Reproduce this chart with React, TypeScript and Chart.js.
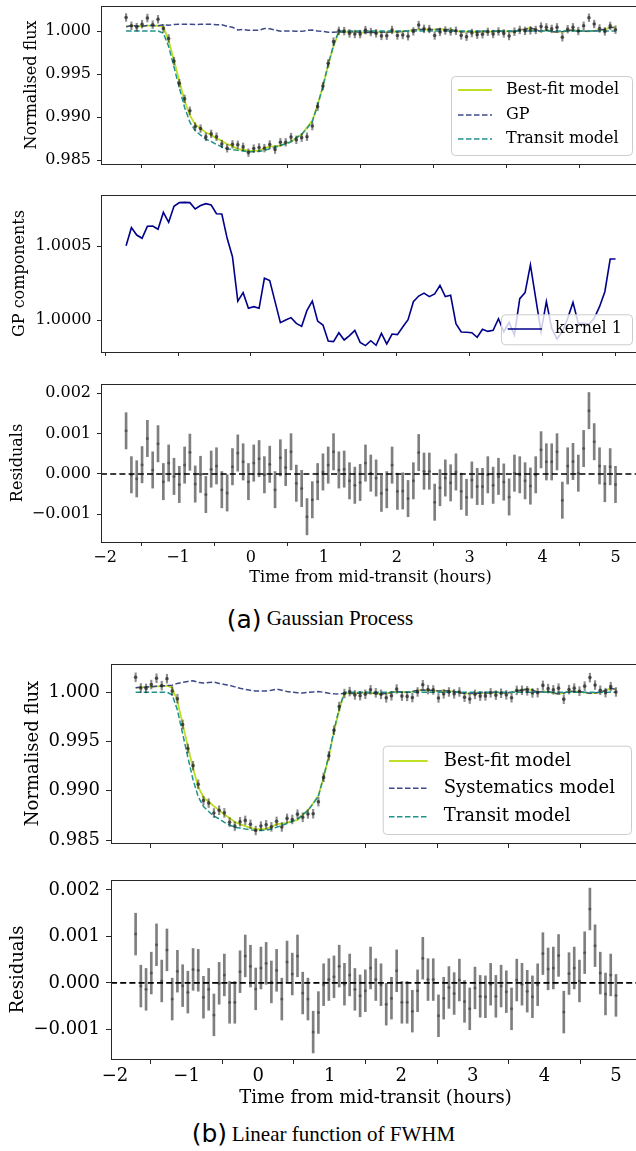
import React, { useEffect, useRef } from 'react';
import { Chart, registerables } from 'chart.js';

Chart.register(...registerables);

// ---------------- data ----------------
const TIME = [
  -1.712, -1.639, -1.566, -1.493, -1.420, -1.347, -1.274, -1.201, -1.128, -1.055,
  -0.982, -0.909, -0.837, -0.764, -0.691, -0.618, -0.545, -0.472, -0.399, -0.326,
  -0.253, -0.180, -0.107, -0.034, 0.039, 0.112, 0.185, 0.258, 0.331, 0.404,
  0.477, 0.550, 0.623, 0.696, 0.769, 0.842, 0.915, 0.988, 1.060, 1.133,
  1.206, 1.279, 1.352, 1.425, 1.498, 1.571, 1.644, 1.717, 1.790, 1.863,
  1.936, 2.009, 2.082, 2.155, 2.228, 2.301, 2.374, 2.447, 2.520, 2.593,
  2.666, 2.739, 2.812, 2.884, 2.957, 3.030, 3.103, 3.176, 3.249, 3.322,
  3.395, 3.468, 3.541, 3.614, 3.687, 3.760, 3.833, 3.906, 3.979, 4.052,
  4.125, 4.198, 4.271, 4.344, 4.417, 4.490, 4.563, 4.636, 4.708, 4.781,
  4.854, 4.927, 5.000,
];

const TRANSIT = [
  1, 1, 1, 1, 1, 1, 1, 0.99975, 0.9982, 0.9958,
  0.9934, 0.9911, 0.9894, 0.9884, 0.9879, 0.98742, 0.98715, 0.9868, 0.98654, 0.98629,
  0.98622, 0.98612, 0.98604, 0.98597, 0.98597, 0.986, 0.98612, 0.9863, 0.98648, 0.98668,
  0.9869, 0.9871, 0.9876, 0.988, 0.9887, 0.98946, 0.9914, 0.99358, 0.99616, 0.99836,
  1, 1, 1, 1, 1, 1, 1, 1, 1, 1,
  1, 1, 1, 1, 1, 1, 1, 1, 1, 1,
  1, 1, 1, 1, 1, 1, 1, 1, 1, 1,
  1, 1, 1, 1, 1, 1, 1, 1, 1, 1,
  1, 1, 1, 1, 1, 1, 1, 1, 1, 1,
  1, 1, 1,
];

const GP = [
  1.000502, 1.000624, 1.000574, 1.000552, 1.000633, 1.000635, 1.000613, 1.000727, 1.000660, 1.000768,
  1.000793, 1.000795, 1.000793, 1.000750, 1.000773, 1.000786, 1.000777, 1.000718, 1.000716, 1.000552,
  1.000428, 1.000128, 1.000185, 1.000079, 1.000090, 1.000079, 1.000282, 1.000266, 1.000124, 0.999982,
  1.000000, 1.000016, 0.999977, 0.999957, 1.000065, 1.000128, 0.999993, 0.999966, 0.999858, 0.999854,
  0.999914, 0.999865, 0.999894, 0.999930, 0.999849, 0.999827, 0.999860, 0.999829, 0.999910, 0.999838,
  0.999905, 0.999901, 0.999953, 1.000002, 1.000124, 1.000162, 1.000182, 1.000158, 1.000176, 1.000234,
  1.000158, 1.000167, 0.999975, 0.999919, 0.999917, 0.999914, 0.999883, 0.999937, 0.999923, 0.999930,
  1.000009, 0.999921, 0.999984, 0.999899, 1.000144, 1.000185, 1.000372, 1.000146, 0.999921, 1.000124,
  0.999944, 0.999872, 0.999921, 1.000011, 1.000119, 0.999977, 0.999977, 0.999971, 1.000011, 1.000090,
  1.000191, 1.000412, 1.000412,
];

const SYS = [
  1.00047, 1.0005, 1.00053, 1.00057, 1.0006, 1.00063, 1.00067, 1.00072, 1.0009, 1.001,
  1.0011, 1.00117, 1.001, 1.00093, 1.001, 1.00103, 1.0009, 1.0008, 1.0007, 1.00055,
  1.0004, 1.0003, 1.0002, 1.00013, 1.00013, 1.00013, 1.0002, 1.00033, 1.0002, 1.00007,
  1.0, 0.99995, 0.99993, 1.0, 1.00003, 1.00007, 1.0, 0.9999, 0.99985, 0.99983,
  0.9999, 0.9999, 0.99987, 0.99993, 0.99997, 0.99993, 0.99987, 0.99983, 0.9999, 0.99997,
  1.00007, 1.00003, 1.0, 1.00007, 1.0002, 1.00023, 1.0002, 1.00017, 1.00013, 1.00017,
  1.00013, 1.00007, 0.99997, 0.9999, 0.99987, 0.9999, 0.9999, 0.99993, 0.99997, 1.0,
  0.99997, 0.99993, 1.0, 1.00013, 1.00023, 1.00033, 1.00023, 1.0, 1.00007, 1.00007,
  0.99993, 0.99983, 0.99993, 1.00007, 1.0001, 1.00007, 0.99997, 0.9999, 0.99993, 1.0,
  1.0002, 1.0004, 1.0003,
];

// residuals in units of 1e-3
const RESID_A = [
  1.07, -0.02, -0.12, 0.23, 0.88, 0.10, 0.75, -0.19, 0.27, -0.06,
  -0.26, 0.22, 0.54, -0.25, -0.01, -0.51, 0.12, 0.20, -0.39, -0.47,
  0.18, 0.52, 0.30, -0.19, 0.27, 0.38, -0.02, 0.24, -0.39, 0.40,
  0.16, 0.55, -0.23, -0.36, -1.06, -0.64, -0.19, 0.05, 0.22, 0.55,
  0.10, 0.12, -0.17, -0.28, -0.21, 0.27, 0.02, -0.10, -0.48, -0.39,
  0.22, -0.43, -0.42, -0.61, -0.17, 0.53, 0.07, 0.07, -0.70, -0.34,
  -0.10, -0.22, 0.05, -0.43, -0.58, -0.15, -0.31, -0.31, -0.02, -0.28,
  -0.06, -0.20, -0.57, 0.02, -0.02, -0.17, -0.30, -0.02, 0.60, 0.30,
  0.30, 0.55, -0.65, 0.20, 0.31, 0.02, 0.63, 1.57, 0.80, 0.20,
  -0.24, 0.18, -0.26,
];

const RESID_B = [
  1.05, -0.07, -0.14, 0.21, 0.82, 0.04, 0.71, -0.35, 0.25, -0.06,
  -0.20, 0.29, 0.27, -0.31, -0.14, -0.69, -0.01, 0.17, -0.42, -0.42,
  0.24, 0.58, 0.36, -0.13, 0.32, 0.42, 0.02, 0.27, -0.35, 0.45,
  0.19, 0.58, -0.22, -0.35, -1.06, -0.64, -0.04, 0.07, 0.13, 0.36,
  -0.03, 0.17, -0.14, -0.28, -0.17, 0.32, 0.07, -0.04, -0.46, -0.33,
  0.26, -0.42, -0.42, -0.61, -0.17, 0.53, 0.07, 0.07, -0.71, -0.33,
  -0.10, -0.23, 0.06, -0.40, -0.56, -0.11, -0.29, -0.30, -0.03, -0.29,
  -0.07, -0.19, -0.56, 0.06, -0.03, -0.18, -0.30, -0.04, 0.63, 0.30,
  0.32, 0.59, -0.63, 0.20, 0.32, 0.04, 0.65, 1.59, 0.80, 0.21,
  -0.24, 0.17, -0.27,
];

const ERR = 0.00045;

const X_TICKS = [-2, -1, 0, 1, 2, 3, 4, 5];
const X_TICK_LABELS = ['\u22122', '\u22121', '0', '1', '2', '3', '4', '5'];
const FLUX_TICKS = [0.985, 0.99, 0.995, 1.0];
const FLUX_TICK_LABELS = ['0.985', '0.990', '0.995', '1.000'];
const GP_TICKS = [1.0, 1.0005];
const GP_TICK_LABELS = ['1.0000', '1.0005'];
const RES_TICKS = [-0.001, 0, 0.001, 0.002];
const RES_TICK_LABELS = ['\u22120.001', '0.000', '0.001', '0.002'];

const LEGEND_A = ['Best-fit model', 'GP', 'Transit model'];
const LEGEND_B = ['Best-fit model', 'Systematics model', 'Transit model'];
const LEGEND_GP = ['kernel 1'];

// ---------------- styles ----------------
const SERIF = '"DejaVu Serif", serif';
const CANVAS_W = 650;
const X_MIN = -2.056;
const X_MAX = 5.336;
const C_BEST = '#bddf26';
const C_GP = '#3e4989';
const C_TRANSIT = '#21918c';
const C_KERNEL = '#00008b';
const C_PT = 'rgba(40,40,40,0.75)';
const C_ERR = 'rgba(0,0,0,0.45)';
const C_RPT = 'rgba(70,70,70,0.75)';
const C_RERR = 'rgba(0,0,0,0.5)';
const C_FRAME = '#262626';
const DASH = [5.5, 2.5];

const xy = (ys: number[]) => TIME.map((t, i) => ({ x: t, y: ys[i] }));
const bars = (ys: number[], e: number) => TIME.map((t, i) => ({ x: t, y: [ys[i] - e, ys[i] + e] }));

function makeX(height: number, labels: boolean, size: number, tickLen: number, titlePad: number) {
  return {
    type: 'linear',
    min: X_MIN,
    max: X_MAX,
    bounds: 'data',
    offset: false,
    afterBuildTicks: (s: any) => { s.ticks = X_TICKS.map((v) => ({ value: v })); },
    afterFit: (s: any) => { s.height = height; s.paddingLeft = 0; s.paddingRight = 0; },
    ticks: {
      display: labels, autoSkip: false, maxRotation: 0, minRotation: 0, padding: 2,
      color: '#000', font: { family: SERIF, size },
      callback: (_v: any, i: number) => X_TICK_LABELS[i],
    },
    grid: { display: true, drawOnChartArea: false, drawTicks: true, tickLength: tickLen, tickColor: C_FRAME, tickWidth: 1 },
    border: { display: false },
    title: {
      display: labels, text: 'Time from mid-transit (hours)', color: '#000',
      font: { family: SERIF, size }, padding: { top: 0, bottom: titlePad },
    },
  };
}

function makeY(o: { width: number; min: number; max: number; ticks: number[]; labels: string[]; size: number; tickLen: number; pad: number; title: string; titlePad: number }) {
  return {
    type: 'linear',
    min: o.min,
    max: o.max,
    bounds: 'data',
    afterBuildTicks: (s: any) => { s.ticks = o.ticks.map((v) => ({ value: v })); },
    afterFit: (s: any) => { s.width = o.width; s.paddingTop = 0; s.paddingBottom = 0; },
    ticks: {
      autoSkip: false, padding: o.pad, color: '#000', font: { family: SERIF, size: o.size },
      callback: (_v: any, i: number) => o.labels[i],
    },
    grid: { display: true, drawOnChartArea: false, drawTicks: true, tickLength: o.tickLen, tickColor: C_FRAME, tickWidth: 1 },
    border: { display: false },
    title: {
      display: true, text: o.title, color: '#000', font: { family: SERIF, size: o.size },
      padding: { top: o.titlePad, bottom: 0 },
    },
  };
}

const framePlugin = {
  id: 'frame',
  afterDatasetsDraw(chart: any) {
    const { ctx, chartArea: a } = chart;
    ctx.save();
    ctx.strokeStyle = C_FRAME;
    ctx.lineWidth = 1;
    ctx.strokeRect(Math.round(a.left) + 0.5, Math.round(a.top) + 0.5, Math.round(a.right - a.left), Math.round(a.bottom - a.top));
    ctx.restore();
  },
};

type LegItem = { label: string; color: string; dash: number[]; width: number };
function legendPlugin(id: string, box: { x: number; y: number; w: number; h: number }, rows: number[], lineX0: number, lineX1: number, textX: number, size: number, items: LegItem[]) {
  return {
    id,
    afterDraw(chart: any) {
      const { ctx } = chart;
      ctx.save();
      ctx.beginPath();
      if (ctx.roundRect) ctx.roundRect(box.x + 0.5, box.y + 0.5, box.w, box.h, 4);
      else ctx.rect(box.x + 0.5, box.y + 0.5, box.w, box.h);
      ctx.fillStyle = 'rgba(255,255,255,0.8)';
      ctx.fill();
      ctx.strokeStyle = '#cccccc';
      ctx.lineWidth = 1;
      ctx.stroke();
      items.forEach((it, k) => {
        const yy = rows[k];
        ctx.beginPath();
        ctx.setLineDash(it.dash);
        ctx.strokeStyle = it.color;
        ctx.lineWidth = it.width;
        ctx.moveTo(lineX0, yy);
        ctx.lineTo(lineX1, yy);
        ctx.stroke();
        ctx.setLineDash([]);
        ctx.fillStyle = '#000';
        ctx.font = `${size}px ${SERIF}`;
        ctx.textAlign = 'left';
        ctx.textBaseline = 'middle';
        ctx.fillText(it.label, textX, yy);
      });
      ctx.restore();
    },
  };
}

function baseConfig(datasets: any[], scales: any, padTop: number, plugins: any[]) {
  return {
    type: 'scatter',
    data: { datasets },
    options: {
      responsive: false,
      maintainAspectRatio: false,
      animation: false,
      events: [],
      layout: { padding: { top: padTop, left: 0, right: 10, bottom: 0 }, autoPadding: false },
      plugins: { legend: { display: false }, tooltip: { enabled: false } },
      scales,
    },
    plugins,
  };
}

function lightCurveDatasets(model2: number[], model2Color: string) {
  const best = TIME.map((_, i) => TRANSIT[i] * model2[i]);
  return { best };
}

// ---------- panel builders ----------
function buildP1() {
  const best = TIME.map((_, i) => TRANSIT[i] * GP[i]);
  const flux = TIME.map((_, i) => best[i] + RESID_A[i] * 1e-3);
  const datasets = [
    { type: 'scatter', data: xy(flux), pointRadius: 1.8, pointBackgroundColor: C_PT, pointBorderWidth: 0, order: 0 },
    { type: 'bar', data: bars(flux, ERR), backgroundColor: C_ERR, barThickness: 1.5, order: 1 },
    { type: 'line', data: xy(TRANSIT), borderColor: C_TRANSIT, borderWidth: 1.5, borderDash: DASH, pointRadius: 0, tension: 0, order: 2 },
    { type: 'line', data: xy(GP), borderColor: C_GP, borderWidth: 1.5, borderDash: DASH, pointRadius: 0, tension: 0, order: 3 },
    { type: 'line', data: xy(best), borderColor: C_BEST, borderWidth: 1.8, pointRadius: 0, tension: 0, order: 4 },
  ];
  const scales = {
    x: makeX(11, false, 16, 4, 0),
    y: makeY({ width: 101, min: 0.984535, max: 1.002907, ticks: FLUX_TICKS, labels: FLUX_TICK_LABELS, size: 16, tickLen: 4, pad: 6, title: 'Normalised flux', titlePad: 22.4 }),
  };
  const leg = legendPlugin('legA', { x: 451, y: 76, w: 181, h: 79 }, [90, 115, 139], 458, 492, 506, 16, [
    { label: LEGEND_A[0], color: C_BEST, dash: [], width: 1.8 },
    { label: LEGEND_A[1], color: C_GP, dash: DASH, width: 1.5 },
    { label: LEGEND_A[2], color: C_TRANSIT, dash: DASH, width: 1.5 },
  ]);
  return baseConfig(datasets, scales, 6, [framePlugin, leg]);
}

function buildP2() {
  const datasets = [
    { type: 'line', data: xy(GP), borderColor: C_KERNEL, borderWidth: 1.6, pointRadius: 0, tension: 0, order: 0 },
  ];
  const scales = {
    x: makeX(13, false, 16, 4, 0),
    y: makeY({ width: 101, min: 0.9997838, max: 1.0008446, ticks: GP_TICKS, labels: GP_TICK_LABELS, size: 16, tickLen: 4, pad: 5.5, title: 'GP components', titlePad: 10.4 }),
  };
  const leg = legendPlugin('legGP', { x: 501, y: 129.3, w: 131, h: 30 }, [144], 507.7, 542, 555, 16, [
    { label: LEGEND_GP[0], color: C_KERNEL, dash: [], width: 1.6 },
  ]);
  return baseConfig(datasets, scales, 10, [framePlugin, leg]);
}

function residDatasets(res: number[]) {
  const r = res.map((v) => v * 1e-3);
  return [
    { type: 'line', data: [{ x: X_MIN, y: 0 }, { x: X_MAX, y: 0 }], borderColor: '#000', borderWidth: 1.6, borderDash: [6, 3.2], pointRadius: 0, order: 0 },
    { type: 'scatter', data: xy(r), pointRadius: 1.5, pointBackgroundColor: C_RPT, pointBorderWidth: 0, order: 1 },
    { type: 'bar', data: bars(r, ERR), backgroundColor: C_RERR, barThickness: 2, order: 2 },
  ];
}

function buildP3() {
  const scales = {
    x: makeX(48, true, 16, 4, 2.7),
    y: makeY({ width: 101, min: -0.001687, max: 0.002231, ticks: RES_TICKS, labels: RES_TICK_LABELS, size: 16, tickLen: 4, pad: 6, title: 'Residuals', titlePad: 8.7 }),
  };
  return baseConfig(residDatasets(RESID_A), scales, 9, [framePlugin]);
}

function buildP4() {
  const best = TIME.map((_, i) => TRANSIT[i] * SYS[i]);
  const flux = TIME.map((_, i) => best[i] + RESID_B[i] * 1e-3);
  const datasets = [
    { type: 'scatter', data: xy(flux), pointRadius: 1.8, pointBackgroundColor: C_PT, pointBorderWidth: 0, order: 0 },
    { type: 'bar', data: bars(flux, ERR), backgroundColor: C_ERR, barThickness: 1.5, order: 1 },
    { type: 'line', data: xy(TRANSIT), borderColor: C_TRANSIT, borderWidth: 1.5, borderDash: DASH, pointRadius: 0, tension: 0, order: 2 },
    { type: 'line', data: xy(SYS), borderColor: C_GP, borderWidth: 1.5, borderDash: DASH, pointRadius: 0, tension: 0, order: 3 },
    { type: 'line', data: xy(best), borderColor: C_BEST, borderWidth: 1.8, pointRadius: 0, tension: 0, order: 4 },
  ];
  const scales = {
    x: makeX(12, false, 18, 5, 0),
    y: makeY({ width: 111, min: 0.9847, max: 1.00287, ticks: FLUX_TICKS, labels: FLUX_TICK_LABELS, size: 18, tickLen: 5, pad: 6, title: 'Normalised flux', titlePad: 22.5 }),
  };
  const leg = legendPlugin('legB', { x: 382.7, y: 90.7, w: 248.3, h: 88.3 }, [106, 133.3, 161.7], 389, 427.7, 443.7, 18, [
    { label: LEGEND_B[0], color: C_BEST, dash: [], width: 1.8 },
    { label: LEGEND_B[1], color: C_GP, dash: DASH, width: 1.5 },
    { label: LEGEND_B[2], color: C_TRANSIT, dash: DASH, width: 1.5 },
  ]);
  return baseConfig(datasets, scales, 9, [framePlugin, leg]);
}

function buildP5() {
  const scales = {
    x: makeX(56, true, 18, 5, 6.2),
    y: makeY({ width: 111, min: -0.00164, max: 0.002215, ticks: RES_TICKS, labels: RES_TICK_LABELS, size: 18, tickLen: 5, pad: 6, title: 'Residuals', titlePad: 7.5 }),
  };
  return baseConfig(residDatasets(RESID_B), scales, 10, [framePlugin]);
}

function Panel({ top, height, build }: { top: number; height: number; build: () => any }) {
  const ref = useRef<HTMLCanvasElement>(null);
  useEffect(() => {
    if (!ref.current) return;
    const chart = new Chart(ref.current, build());
    return () => chart.destroy();
  }, []);
  return (
    <canvas
      ref={ref}
      width={CANVAS_W}
      height={height}
      style={{ position: 'absolute', left: 0, top, width: CANVAS_W, height, display: 'block' }}
    />
  );
}

const capSans: React.CSSProperties = { position: 'absolute', fontFamily: '"DejaVu Sans", sans-serif', fontSize: 25, lineHeight: '25px', whiteSpace: 'nowrap', color: '#000' };
const capSerif: React.CSSProperties = { position: 'absolute', fontFamily: '"Liberation Serif", serif', fontSize: 21, lineHeight: '21px', whiteSpace: 'nowrap', color: '#000' };

export default function App() {
  return (
    <div style={{ position: 'absolute', left: 0, top: 0, width: 636, height: 1151, overflow: 'hidden', background: '#fff' }}>
      <Panel top={0} height={175} build={buildP1} />
      <Panel top={185} height={180} build={buildP2} />
      <Panel top={375} height={215} build={buildP3} />
      <span style={{ ...capSans, left: 226.7, top: 607 }}>(a)</span>
      <span style={{ ...capSerif, left: 266.7, top: 607.5 }}>Gaussian Process</span>
      <Panel top={655} height={200} build={buildP4} />
      <Panel top={870} height={245} build={buildP5} />
      <span style={{ ...capSans, left: 191.7, top: 1121.3 }}>(b)</span>
      <span style={{ ...capSerif, left: 231.7, top: 1123.9 }}>Linear function of FWHM</span>
    </div>
  );
}
